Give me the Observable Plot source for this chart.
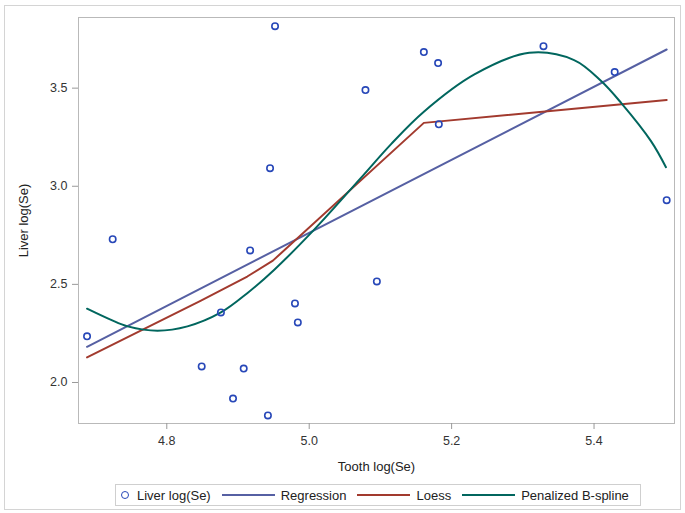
<!DOCTYPE html>
<html>
<head>
<meta charset="utf-8">
<script src="https://cdn.jsdelivr.net/npm/d3@7"></script>
<script src="https://cdn.jsdelivr.net/npm/@observablehq/plot@0.6"></script>
<style>
  html, body { margin: 0; padding: 0; background: #fff; }
  #wrap { position: relative; width: 685px; height: 513px; font-family: "Liberation Sans", Arial, sans-serif; }
  #border { position: absolute; left: 4px; top: 5px; width: 675px; height: 503px; border: 1px solid #d4d4d4; pointer-events: none; }
  #chart { position: absolute; left: 0; top: 0; }
  g[aria-label="x-axis label"] text, g[aria-label="y-axis label"] text { font-size: 13px; fill: #222; }
  #legend { position: absolute; left: 115px; top: 484px; width: 524px; height: 20px; border: 1px solid #cfcfcf;
            display: flex; align-items: center; font-size: 13px; color: #222; box-sizing: content-box; }
  .item { display: flex; align-items: center; }
  .swatch { width: 53px; height: 2px; margin: 0 6px 0 0; }
  .circ { width: 6px; height: 6px; border: 1.6px solid #2747b8; border-radius: 50%; margin: 0 8px 0 5px; }
</style>
</head>
<body>
<div id="wrap">
  <div id="chart"></div>
  <div id="border"></div>
  <div id="legend"></div>
</div>
<script>
// Scatter data
const toothX = [4.688, 4.724, 4.849, 4.876, 4.893, 4.908, 4.917, 4.942, 4.945, 4.952,
                4.980, 4.984, 5.079, 5.095, 5.161, 5.181, 5.182, 5.329, 5.429, 5.502];
const liverY = [2.235, 2.730, 2.082, 2.357, 1.918, 2.071, 2.673, 1.832, 3.092, 3.816,
                2.403, 2.306, 3.490, 2.515, 3.684, 3.628, 3.316, 3.714, 3.582, 2.929];

// Regression line
const regX = [4.688, 5.502];
const regY = [2.182, 3.697];

// Loess fit
const loessX = [4.688, 4.848, 4.913, 4.949, 5.161, 5.502];
const loessY = [2.128, 2.417, 2.540, 2.621, 3.323, 3.440];

// Penalized B-spline fit
const splX = [4.688, 4.721, 4.745, 4.787, 4.829, 4.876, 4.913, 4.951, 5.006, 5.072,
              5.115, 5.161, 5.232, 5.309, 5.372, 5.410, 5.438, 5.480, 5.501];
const splY = [2.376, 2.320, 2.286, 2.264, 2.286, 2.357, 2.455, 2.575, 2.775, 3.040,
              3.215, 3.380, 3.570, 3.680, 3.643, 3.536, 3.425, 3.230, 3.097];

const xTicks = [4.8, 5.0, 5.2, 5.4];
const yTicks = [2.0, 2.5, 3.0, 3.5];

const seriesNames = ["Liver log(Se)", "Regression", "Loess", "Penalized B-spline"];
const colors = { points: "#2747b8", reg: "#5660a3", loess: "#a23a2e", spl: "#01665e" };

const pts = toothX.map((x, i) => ({ x, y: liverY[i] }));
const reg = regX.map((x, i) => ({ x, y: regY[i] }));
const loe = loessX.map((x, i) => ({ x, y: loessY[i] }));
const spl = splX.map((x, i) => ({ x, y: splY[i] }));

const chart = Plot.plot({
  width: 685,
  height: 480,
  marginLeft: 78,
  marginRight: 11,
  marginTop: 17,
  marginBottom: 57,
  style: { fontFamily: "Liberation Sans, Arial, sans-serif", fontSize: "12.5px", color: "#333", background: "transparent" },
  x: { domain: [4.676, 5.513] },
  y: { domain: [1.791, 3.86] },
  marks: [
    Plot.frame({ stroke: "#b9b9b9" }),
    Plot.axisX({ ticks: xTicks, tickFormat: d3.format(".1f"), tickSize: 6, tickPadding: 7,
                 stroke: "#999", fill: "#333", label: "Tooth log(Se)", labelAnchor: "center",
                 labelArrow: "none", labelOffset: 47 }),
    Plot.axisY({ ticks: yTicks, tickFormat: d3.format(".1f"), tickSize: 6, tickPadding: 5,
                 stroke: "#999", fill: "#333", label: "Liver log(Se)", labelAnchor: "center",
                 labelArrow: "none", labelOffset: 60 }),
    Plot.line(reg, { x: "x", y: "y", stroke: colors.reg, strokeWidth: 2 }),
    Plot.line(loe, { x: "x", y: "y", stroke: colors.loess, strokeWidth: 2 }),
    Plot.line(spl, { x: "x", y: "y", stroke: colors.spl, strokeWidth: 2, curve: "catmull-rom" }),
    Plot.dot(pts, { x: "x", y: "y", r: 3.2, stroke: colors.points, strokeWidth: 1.6, fill: "none" })
  ]
});
document.getElementById("chart").appendChild(chart);

// Legend
const legend = document.getElementById("legend");
const legendItems = [
  { name: seriesNames[0], kind: "circ", color: colors.points },
  { name: seriesNames[1], kind: "line", color: colors.reg },
  { name: seriesNames[2], kind: "line", color: colors.loess },
  { name: seriesNames[3], kind: "line", color: colors.spl }
];
legendItems.forEach((it, i) => {
  const d = document.createElement("div");
  d.className = "item";
  d.style.marginLeft = i === 0 ? "0px" : "11px";
  const s = document.createElement("div");
  if (it.kind === "circ") { s.className = "circ"; s.style.borderColor = it.color; }
  else { s.className = "swatch"; s.style.background = it.color; }
  const t = document.createElement("span");
  t.textContent = it.name;
  d.appendChild(s); d.appendChild(t);
  legend.appendChild(d);
});
</script>
</body>
</html>
